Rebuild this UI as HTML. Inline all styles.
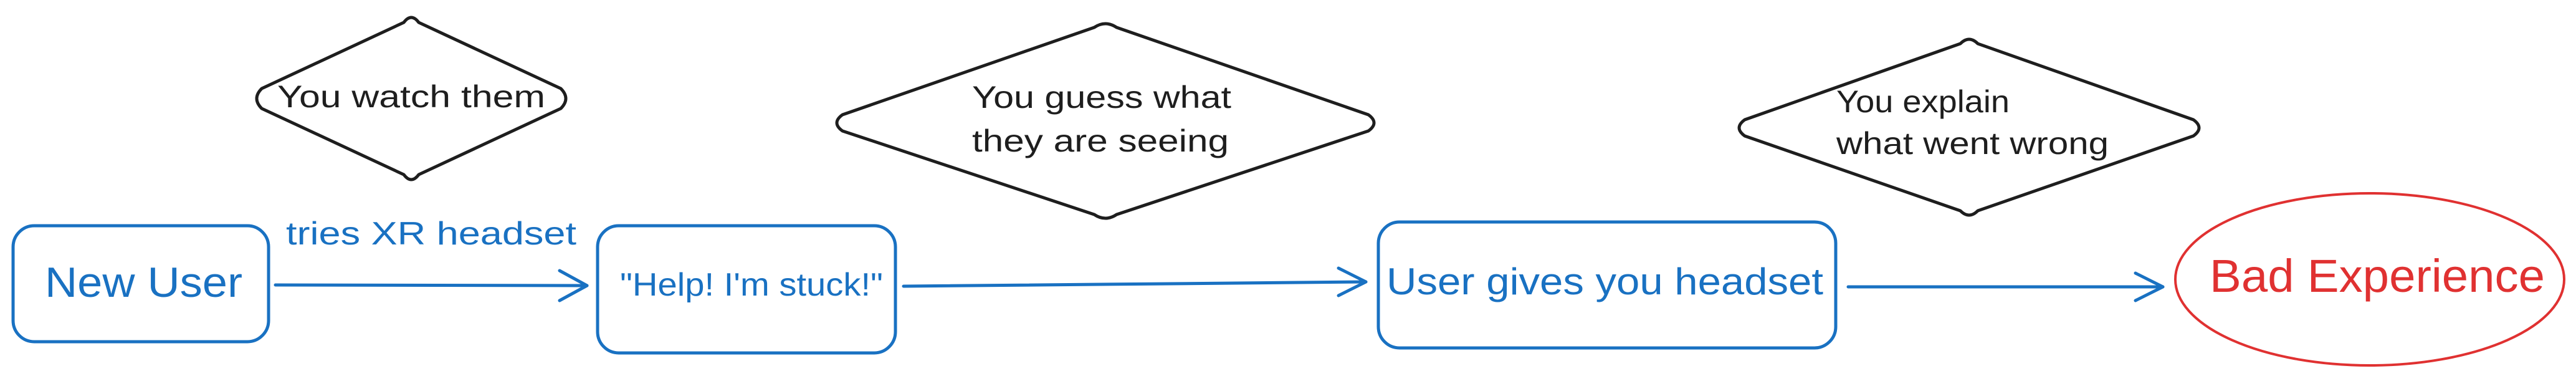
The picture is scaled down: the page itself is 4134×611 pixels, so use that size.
<!DOCTYPE html>
<html><head><meta charset="utf-8"><style>html,body{margin:0;padding:0;background:#fff}svg{display:block}</style></head>
<body>
<svg width="4134" height="611" viewBox="0 0 4134 611" xmlns="http://www.w3.org/2000/svg" font-family="'Liberation Sans', sans-serif">
<rect width="4134" height="611" fill="#fff"/>
<g fill="none" stroke="#1e1e1e" stroke-width="5" stroke-linejoin="round">
<path d="M648 36 Q660 20 672 36 L900 142 Q916 158 900 174 L672 280 Q660 296 648 280 L420 174 Q404 158 420 142 Z"/>
<path d="M1756 44 Q1774 32 1792 44 L2196 184 Q2214 197 2196 210 L1792 344 Q1774 356 1756 344 L1352 210 Q1334 197 1352 184 Z"/>
<path d="M3146 70 Q3160 56 3174 70 L3520 192 Q3538 205 3520 218 L3174 338 Q3160 352 3146 338 L2800 218 Q2782 205 2800 192 Z"/>
</g>
<g fill="#1e1e1e" font-size="50">
<text x="660" y="172" text-anchor="middle" textLength="430" lengthAdjust="spacingAndGlyphs">You watch them</text>
<text x="1560" y="173" textLength="416" lengthAdjust="spacingAndGlyphs">You guess what</text>
<text x="1560" y="243" textLength="412" lengthAdjust="spacingAndGlyphs">they are seeing</text>
<text x="2947" y="180" textLength="278" lengthAdjust="spacingAndGlyphs">You explain</text>
<text x="2947" y="247" textLength="437" lengthAdjust="spacingAndGlyphs">what went wrong</text>
</g>
<g fill="none" stroke="#1971c2" stroke-width="5">
<rect x="21" y="362" width="410" height="186" rx="34"/>
<rect x="959" y="362" width="478" height="204" rx="34"/>
<rect x="2212" y="356" width="734" height="202" rx="34"/>
</g>
<ellipse cx="3803" cy="448" rx="312" ry="138" fill="none" stroke="#e03131" stroke-width="4"/>
<g fill="none" stroke="#1971c2" stroke-width="5" stroke-linecap="round" stroke-linejoin="round">
<path d="M442 457 L942 458"/><path d="M898 434 L942 458 L898 482"/>
<path d="M1450 459 L2192 452"/><path d="M2148 430 L2192 452 L2148 474"/>
<path d="M2966 460 L3471 460"/><path d="M3427 438 L3471 460 L3427 482"/>
</g>
<g fill="#1971c2">
<text x="459" y="392" font-size="52" textLength="466" lengthAdjust="spacingAndGlyphs">tries XR headset</text>
<text x="72" y="476" font-size="68" textLength="317" lengthAdjust="spacingAndGlyphs">New User</text>
<text x="995" y="474" font-size="52" textLength="422" lengthAdjust="spacingAndGlyphs">"Help! I'm stuck!"</text>
<text x="2225" y="472" font-size="60" textLength="701" lengthAdjust="spacingAndGlyphs">User gives you headset</text>
</g>
<text x="3546" y="468" font-size="74" fill="#e03131" textLength="538" lengthAdjust="spacingAndGlyphs">Bad Experience</text>
</svg>
</body></html>
